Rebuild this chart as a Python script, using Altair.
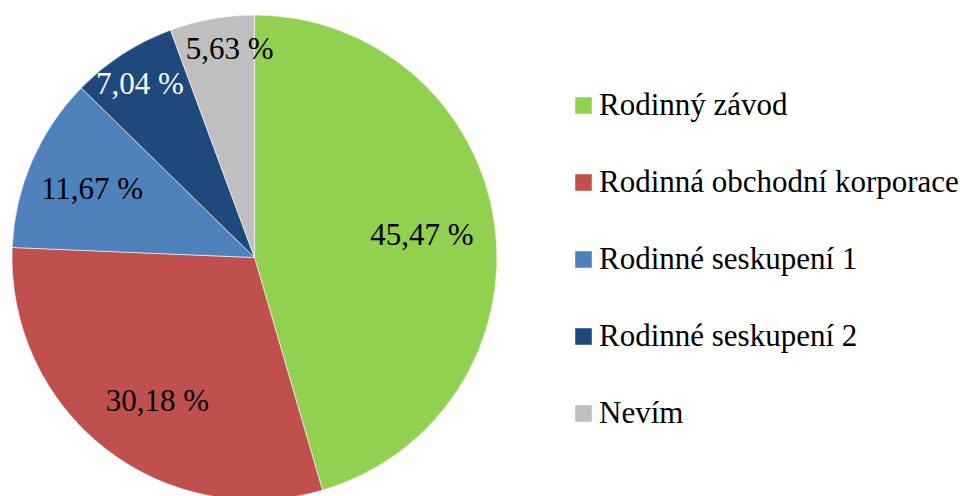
import altair as alt
import pandas as pd

categories = ["Rodinný závod", "Rodinná obchodní korporace", "Rodinné seskupení 1",
              "Rodinné seskupení 2", "Nevím"]
values = [45.47, 30.18, 11.67, 7.04, 5.63]
labels = ["45,47 %", "30,18 %", "11,67 %", "7,04 %", "5,63 %"]
colors = ["#92D050", "#C0504D", "#4F81BD", "#1F497D", "#BFBFBF"]

df = pd.DataFrame({
    "category": categories,
    "value": values,
    "label": labels,
    "idx": list(range(len(categories))),
})

FONT = "Liberation Serif"
CX, CY, R = 246.5, 249.5, 242.5

pie = alt.Chart(df).mark_arc(outerRadius=R, stroke="white", strokeWidth=0.6).encode(
    theta=alt.Theta("value:Q", stack=True),
    order=alt.Order("idx:Q"),
    x=alt.value(CX),
    y=alt.value(CY),
    color=alt.Color(
        "category:N",
        scale=alt.Scale(domain=categories, range=colors),
        sort=categories,
        legend=alt.Legend(
            title=None,
            orient="none",
            legendX=560,
            legendY=82,
            symbolType="square",
            symbolSize=275,
            symbolStrokeWidth=0,
            labelFont=FONT,
            labelFontSize=31,
            labelColor="black",
            labelOffset=0,
            rowPadding=45,
            padding=0,
            labelLimit=500,
        ),
    ),
)

# label placement: (radius, dx, dy)
label_place = {
    "Rodinný závod": (169, 0, 2),
    "Rodinná obchodní korporace": (174, 10, 7),
    "Rodinné seskupení 1": (177, 0, 3),
    "Rodinné seskupení 2": (207, -2, 1),
    "Nevím": (209, 12, -2),
}

text_base = alt.Chart(df).transform_window(
    cum="sum(value)", sort=[alt.SortField("idx")]
).transform_calculate(
    mid="datum.cum - datum.value / 2"
).encode(
    theta=alt.Theta("mid:Q"),
    x=alt.value(CX),
    y=alt.value(CY),
    text="label:N",
)

layers = [pie]
for cat in categories:
    r, dx, dy = label_place[cat]
    layers.append(
        text_base.mark_text(radius=r, dx=dx, dy=dy, font=FONT, fontSize=31).encode(
            color=alt.value("white" if cat == "Rodinné seskupení 2" else "black"),
        ).transform_filter(alt.datum.category == cat)
    )

chart = alt.layer(*layers).properties(
    width=560, height=475, padding=0, background="white"
).configure_view(stroke=None)

chart.save("out.html", embed_options={"renderer": "svg", "actions": False})
